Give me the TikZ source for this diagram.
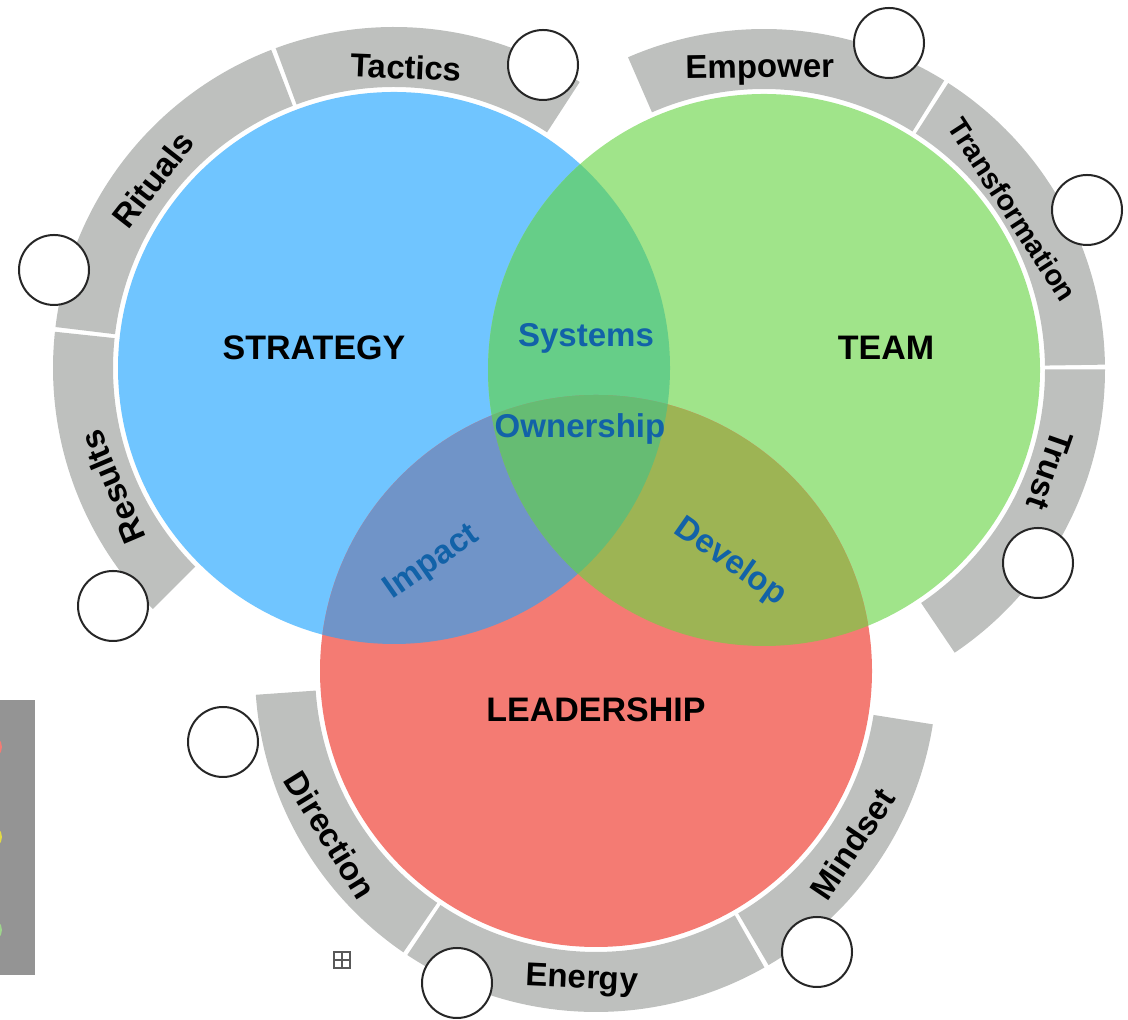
\documentclass[tikz,border=0pt]{standalone}
\usepackage{fontspec}
\setmainfont{Liberation Sans}

\definecolor{strategyblue}{RGB}{112,197,255}
\definecolor{teamgreen}{RGB}{160,228,138}
\definecolor{leadred}{RGB}{244,123,115}
\definecolor{bluegreen}{RGB}{102,206,136}
\definecolor{bluered}{RGB}{112,148,200}
\definecolor{greenred}{RGB}{157,180,84}
\definecolor{allthree}{RGB}{102,188,115}
\definecolor{bandgray}{RGB}{190,192,190}
\definecolor{sidegray}{RGB}{148,148,148}
\definecolor{overlapblue}{RGB}{18,98,168}

\begin{document}
\begin{tikzpicture}[
    x=0.5pt,
    y=0.5pt,
    band/.style={fill=bandgray},
    marker/.style={circle, draw=black!85, line width=1pt, fill=white, minimum size=35pt, inner sep=0pt},
    bandlabel/.style={font=\fontsize{16.5}{18}\selectfont\bfseries, inner sep=0pt},
    mainlabel/.style={font=\fontsize{17}{19}\selectfont\bfseries, inner sep=0pt},
    overlaplabel/.style={font=\fontsize{16.5}{18}\selectfont\bfseries, text=overlapblue, inner sep=0pt}
]
    \useasboundingbox (0,0) rectangle (1128,1020);

    \coordinate (B) at (394,652);
    \coordinate (G) at (764,650);
    \coordinate (R) at (596,349);

    % outer bands
    \foreach \c/\a/\b in {B/57/110.3, B/111.1/173.1, B/173.9/225,
                          G/58.1/113.5, G/0.9/57.3, G/-56/0.1,
                          R/184/235.6, R/236.4/299.6, R/300.4/351}
        \fill[band, shift={(\c)}] (\a:281) arc[start angle=\a, end angle=\b, radius=281]
            -- (\b:341) arc[start angle=\b, end angle=\a, radius=341] -- cycle;

    % circles and overlaps
    \fill[strategyblue] (B) circle (276);
    \fill[teamgreen] (G) circle (276);
    \fill[leadred] (R) circle (276);
    \begin{scope}
        \clip (B) circle (276);
        \fill[bluegreen] (G) circle (276);
        \fill[bluered] (R) circle (276);
    \end{scope}
    \begin{scope}
        \clip (G) circle (276);
        \fill[greenred] (R) circle (276);
    \end{scope}
    \begin{scope}
        \clip (B) circle (276);
        \clip (G) circle (276);
        \fill[allthree] (R) circle (276);
    \end{scope}

    \node[mainlabel] (strategy) at (314,672) {STRATEGY};
    \node[mainlabel] (team) at (886,672) {TEAM};
    \node[mainlabel] (leadership) at (596,310) {LEADERSHIP};
    \node[overlaplabel] (systems) at (586,682) {Systems};
    \node[overlaplabel] (ownership) at (580,591) {Ownership};
    \node[overlaplabel, rotate=35] (impact) at (432,457) {Impact};
    \node[overlaplabel, rotate=-35] (develop) at (730,458) {Develop};

    % band labels
    \path[shift={(B)}]
        (87.7:301) node[bandlabel, rotate=-2.3] (tactics) {Tactics}
        (142:306) node[bandlabel, rotate=52] (rituals) {Rituals}
        (203:306) node[bandlabel, rotate=113] (results) {Results};
    \path[shift={(G)}]
        (90.8:300) node[bandlabel, rotate=0.8] (empower) {Empower}
        (32.8:296) node[bandlabel, rotate=-57, font=\fontsize{14.5}{16}\selectfont\bfseries] (transformation) {Transformation}
        (-19.3:303) node[bandlabel, rotate=-109.3] (trust) {Trust};
    \path[shift={(R)}]
        (211.7:312) node[bandlabel, rotate=-58.3] (direction) {Direction}
        (267.4:310) node[bandlabel, rotate=-2.6] (energy) {Energy}
        (-34:309) node[bandlabel, rotate=56] (mindset) {Mindset};

    % markers
    \node[marker] (tacticsdot) at (543,955) {};
    \node[marker] (ritualsdot) at (54,750) {};
    \node[marker] (resultsdot) at (113,414) {};
    \node[marker] (empowerdot) at (889,977) {};
    \node[marker] (transformationdot) at (1087,810) {};
    \node[marker] (trustdot) at (1038,457) {};
    \node[marker] (directiondot) at (223,278) {};
    \node[marker] (energydot) at (457,37) {};
    \node[marker] (mindsetdot) at (817,68) {};

    % side strip
    \fill[sidegray] (0,45) rectangle (35,320);
    \begin{scope}
        \clip (0,45) rectangle (35,320);
        \fill[leadred] (-10,273) circle (12);
        \fill[yellow!70!sidegray] (-10,183) circle (12);
        \fill[teamgreen!80!sidegray] (-10,90) circle (12);
    \end{scope}

    % expand icon
    \node[draw=black!65, line width=0.6pt, minimum size=8pt, inner sep=0pt] (expand) at (342,60) {};
    \draw[black!65, line width=0.6pt] (expand.north) -- (expand.south) (expand.west) -- (expand.east);
\end{tikzpicture}
\end{document}
